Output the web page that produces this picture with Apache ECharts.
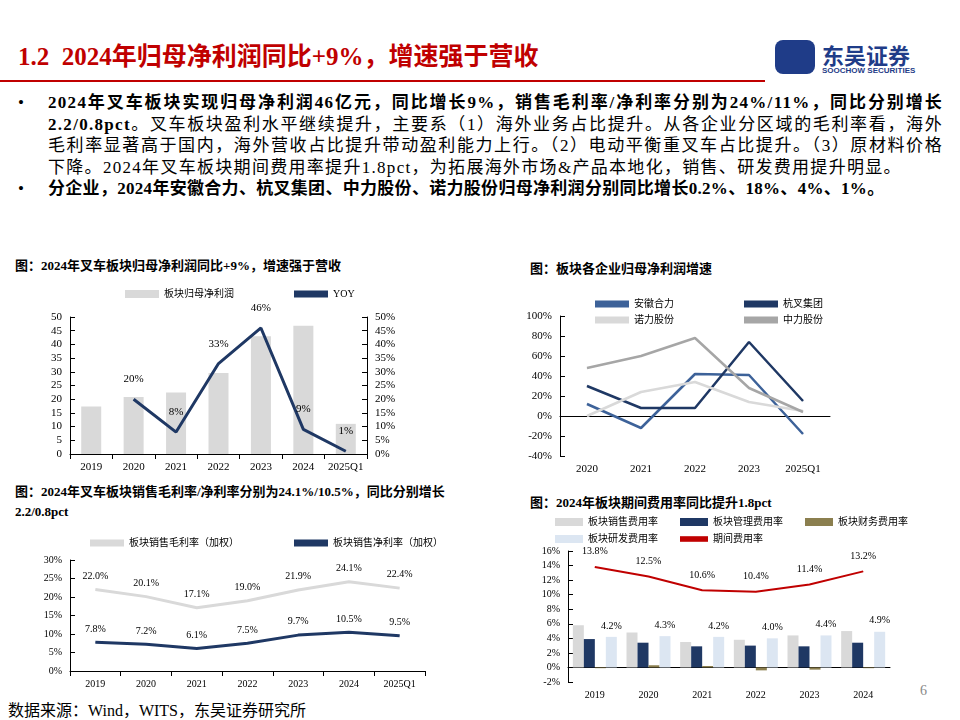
<!DOCTYPE html>
<html><head><meta charset="utf-8">
<script src="https://cdn.jsdelivr.net/npm/echarts@6/dist/echarts.min.js"></script>
<style>
body{margin:0;width:960px;height:720px;position:relative;background:#fff;font-family:"Liberation Serif","Noto Sans CJK SC",serif;overflow:hidden}
.a{position:absolute}
.ttl{font-weight:bold;font-size:13px;color:#000}
</style></head><body>
<div class="a" style="left:18px;top:36px;font-size:25px;font-weight:bold;color:#c00000">1.2&nbsp; 2024年归母净利润同比+9%，增速强于营收</div>
<div class="a" style="left:0;top:80px;width:765px;height:2px;background:#c00000"></div>
<div class="a" style="left:775px;top:40px;width:40px;height:34px;border-radius:8px;background:#1f3c88"></div>
<div class="a" style="left:822px;top:38px;font-size:22px;font-weight:bold;color:#1f3c88">东吴证券</div>
<div class="a" style="left:822px;top:66px;font-size:8px;font-family:'Liberation Sans';font-weight:bold;color:#1f3c88">SOOCHOW SECURITIES</div>
<div class="a" style="left:18px;top:92px;width:925px;font-size:17px;letter-spacing:1.3px;line-height:21.5px;color:#000;text-align:justify">
<div style="display:flex"><span style="flex:0 0 30px">•</span><span><b>2024年叉车板块实现归母净利润46亿元，同比增长9%，销售毛利率/净利率分别为24%/11%，同比分别增长2.2/0.8pct</b>。叉车板块盈利水平继续提升，主要系（1）海外业务占比提升。从各企业分区域的毛利率看，海外毛利率显著高于国内，海外营收占比提升带动盈利能力上行。（2）电动平衡重叉车占比提升。（3）原材料价格下降。2024年叉车板块期间费用率提升1.8pct，为拓展海外市场&amp;产品本地化，销售、研发费用提升明显。</span></div>
<div style="display:flex;letter-spacing:0.3px"><span style="flex:0 0 30px">•</span><span><b>分企业，2024年安徽合力、杭叉集团、中力股份、诺力股份归母净利润分别同比增长0.2%、18%、4%、1%。</b></span></div>
</div>
<div class="a ttl" style="left:15px;top:255px">图：2024年叉车板块归母净利润同比+9%，增速强于营收</div>
<div class="a ttl" style="left:530px;top:258px">图：板块各企业归母净利润增速</div>
<div class="a ttl" style="left:15px;top:482px;width:480px;line-height:20px">图：2024年叉车板块销售毛利率/净利率分别为24.1%/10.5%，同比分别增长2.2/0.8pct</div>
<div class="a ttl" style="left:530px;top:492px">图：2024年板块期间费用率同比提升1.8pct</div>
<div class="a" style="left:8px;top:697px;font-size:16px">数据来源：Wind，WITS，东吴证券研究所</div>
<div class="a" style="left:920px;top:683px;font-size:14px;color:#888">6</div>
<div id="c1" class="a" style="left:0;top:280px;width:400px;height:200px"></div>
<div id="c2" class="a" style="left:490px;top:290px;width:350px;height:185px"></div>
<div id="c3" class="a" style="left:0;top:525px;width:460px;height:170px"></div>
<div id="c4" class="a" style="left:520px;top:508px;width:410px;height:192px"></div>
<script>
const years1=['2019','2020','2021','2022','2023','2024','2025Q1'];
const profit=[17.3,20.8,22.4,29.6,43.0,46.8,11.0];
const yoy=[null,20,8,33,46,9,1];
const years2=['2020','2021','2022','2023','2025Q1'];
const heli=[12,-12,42,41,-18];
const hangcha=[30,8,8,74,15];
const nuoli=[0,24,34,14,5];
const zhongli=[48,60,78,28,4];
const grossM=[22.0,20.1,17.1,19.0,21.9,24.1,22.4];
const netM=[7.8,7.2,6.1,7.5,9.7,10.5,9.5];
const years4=['2019','2020','2021','2022','2023','2024'];
const salesR=[5.8,4.8,3.5,3.8,4.4,5.0];
const adminR=[3.9,3.4,2.9,3.0,2.9,3.4];
const finR=[-0.1,0.3,0.2,-0.4,-0.3,-0.1];
const rdR=[4.2,4.3,4.2,4.0,4.4,4.9];
const totalR=[13.8,12.5,10.6,10.4,11.4,13.2];

const F='"Liberation Serif","Noto Sans CJK SC",serif';
const navy='#1f3864';
const axL={show:true,lineStyle:{color:'#000'}};
const tx={fontFamily:F,color:'#000',fontSize:11,interval:0};
const LINE='path://M0,0H10V2H0Z';
function lg(o){return Object.assign({textStyle:{fontFamily:F,fontSize:10,color:'#000'},itemWidth:34,itemHeight:8,orient:'horizontal'},o);}
function lineS(name,data,color,w,lbl,extra){
 return Object.assign({name,type:'line',data,symbol:'circle',symbolSize:0.5,showSymbol:true,itemStyle:{color},lineStyle:{color,width:w},
  label:lbl?Object.assign({show:true,position:'top',fontFamily:F,fontSize:11,color:'#000'},lbl):{show:false},labelLayout:{hideOverlap:false}},extra||{});
}

echarts.init(document.getElementById('c1')).setOption({
 animation:false,
 legend:lg({top:4,left:120,itemGap:60,data:[{name:'板块归母净利润',icon:'rect'},{name:'YOY',icon:LINE}]}),
 grid:{left:70,right:33,top:37,bottom:26},
 xAxis:{type:'category',data:years1,axisLine:axL,axisTick:{show:true,lineStyle:{color:'#000'}},axisLabel:tx},
 yAxis:[{type:'value',min:0,max:50,interval:5,splitLine:{show:false},axisLine:axL,axisTick:{show:true,inside:true,lineStyle:{color:'#000'}},axisLabel:tx},
  {type:'value',min:0,max:50,interval:5,splitLine:{show:false},axisLine:axL,axisTick:{show:true,inside:true,lineStyle:{color:'#000'}},axisLabel:Object.assign({formatter:'{value}%'},tx)}],
 series:[{name:'板块归母净利润',type:'bar',data:profit,barWidth:20,itemStyle:{color:'#d9d9d9'}},
  lineS('YOY',yoy,navy,3,{distance:14,formatter:'{c}%'},{yAxisIndex:1})]
});

echarts.init(document.getElementById('c2')).setOption({
 animation:false,
 legend:[lg({top:4,left:100,itemGap:70,icon:LINE,data:['安徽合力','杭叉集团']}),lg({top:20,left:100,itemGap:70,icon:LINE,data:['诺力股份','中力股份']})],
 grid:{left:70,right:10,top:26,bottom:12},
 xAxis:{type:'category',data:years2,boundaryGap:true,axisLine:{onZero:true,lineStyle:{color:'#000'}},axisTick:{show:false},axisLabel:tx},
 yAxis:{type:'value',min:-40,max:100,interval:20,splitLine:{show:false},axisLine:axL,axisTick:{show:true,inside:true},axisLabel:Object.assign({formatter:'{value}%'},tx)},
 series:[
  lineS('安徽合力',heli,'#3d6299',2.5),
  lineS('杭叉集团',hangcha,navy,2.5),
  lineS('诺力股份',nuoli,'#d9d9d9',2.5),
  lineS('中力股份',zhongli,'#a6a6a6',2.5)]
});

const pf=p=>p.value.toFixed(1)+'%';
echarts.init(document.getElementById('c3')).setOption({
 animation:false,
 legend:lg({top:8,left:85,itemGap:55,icon:LINE,data:['板块销售毛利率（加权）','板块销售净利率（加权）']}),
 grid:{left:70,right:35,top:35,bottom:24},
 xAxis:{type:'category',data:years1,axisLine:axL,axisTick:{show:true},axisLabel:Object.assign({},tx,{fontSize:10})},
 yAxis:{type:'value',min:0,max:30,interval:5,splitLine:{show:false},axisLine:axL,axisTick:{show:true,inside:true},axisLabel:Object.assign({formatter:'{value}%'},tx,{fontSize:10})},
 series:[
  lineS('板块销售毛利率（加权）',grossM,'#d9d9d9',3,{distance:8,formatter:pf,fontSize:10}),
  lineS('板块销售净利率（加权）',netM,navy,3,{distance:8,formatter:pf,fontSize:10})]
});

echarts.init(document.getElementById('c4')).setOption({
 animation:false,
 legend:[lg({top:4,left:30,itemGap:22,itemWidth:28,data:[{name:'板块销售费用率',icon:'rect'},{name:'板块管理费用率',icon:'rect'},{name:'板块财务费用率',icon:'rect'}]}),
  lg({top:21,left:30,itemGap:22,itemWidth:28,data:[{name:'板块研发费用率',icon:'rect'},{name:'期间费用率',icon:LINE}]})],
 grid:{left:48,right:40,top:43,bottom:4},
 xAxis:{type:'category',data:years4,axisLine:{onZero:true,lineStyle:{color:'#000'}},axisTick:{show:false},axisLabel:Object.assign({},tx,{fontSize:10})},
 yAxis:{type:'value',min:-2,max:16,interval:2,splitLine:{show:false},axisLine:axL,axisTick:{show:true,inside:true},axisLabel:Object.assign({formatter:'{value}%'},tx,{fontSize:10})},
 series:[
  {name:'板块销售费用率',type:'bar',data:salesR,barWidth:11,barGap:'0%',itemStyle:{color:'#d9d9d9'}},
  {name:'板块管理费用率',type:'bar',data:adminR,barWidth:11,itemStyle:{color:navy}},
  {name:'板块财务费用率',type:'bar',data:finR,barWidth:11,itemStyle:{color:'#8b7f4f'}},
  {name:'板块研发费用率',type:'bar',data:rdR,barWidth:11,itemStyle:{color:'#dce6f2'},label:{show:true,position:'top',distance:6,formatter:pf,fontFamily:F,fontSize:10,color:'#000'}},
  lineS('期间费用率',totalR,'#c00000',2,{distance:10,formatter:pf,fontSize:10})]
});
</script></body></html>
